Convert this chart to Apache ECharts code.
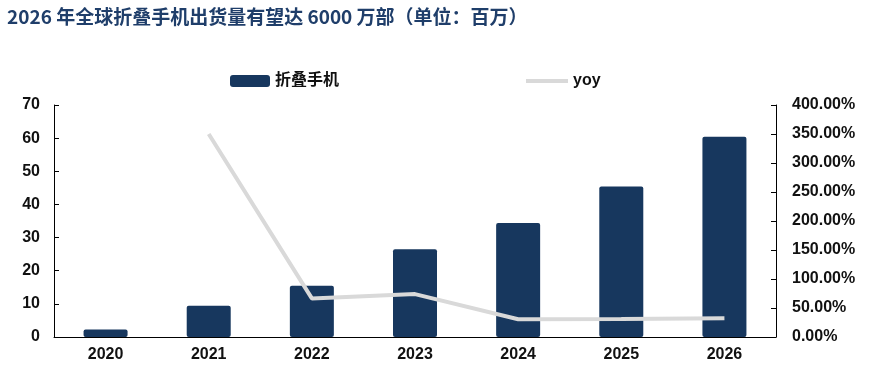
<!DOCTYPE html>
<html><head><meta charset="utf-8">
<script src="https://cdn.jsdelivr.net/npm/echarts@6/dist/echarts.min.js"></script>
<style>html,body{margin:0;padding:0;background:#fff}#c{width:883px;height:388px}</style>
</head><body><div id="c"></div>
<script>
const titleText = '2026 年全球折叠手机出货量有望达 6000 万部（单位：百万）';
const categories = ['2020','2021','2022','2023','2024','2025','2026'];
const shipments = [2.3, 9.4, 15.5, 26.5, 34.4, 45.4, 60.4];
const yoy = [null, 350, 66.5, 74, 30.5, 31, 32.5];
const barName = '折叠手机';
const lineName = 'yoy';

const chart = echarts.init(document.getElementById('c'));
const fontFam = '"Liberation Sans", Arial, "Noto Sans CJK SC", sans-serif';
const legendText = {fontFamily: '"Liberation Sans", "Noto Sans CJK SC", sans-serif', fontWeight: 'bold', fontSize: 16, color: '#111'};
chart.setOption({
  animation: false,
  title: {
    text: titleText, left: 2, top: 2,
    textStyle: {fontFamily: '"Noto Sans CJK SC", "Liberation Sans", sans-serif', fontWeight: 'bold', fontSize: 19, color: '#1F3E6A'}
  },
  legend: [{
    top: 68, left: 225, itemWidth: 40, itemHeight: 12,
    textStyle: legendText,
    data: [{name: barName, icon: 'roundRect'}]
  }, {
    top: 68, left: 521, itemWidth: 42, itemHeight: 4,
    textStyle: legendText,
    data: [{name: lineName, icon: 'rect', itemStyle: {color: '#D9D9D9'}}]
  }],
  grid: {left: 54, right: 107, top: 105, bottom: 51},
  xAxis: {
    type: 'category', data: categories,
    axisLine: {lineStyle: {color: '#000', width: 1}},
    axisTick: {inside: true, length: 5, lineStyle: {color: '#000'}},
    axisLabel: {fontFamily: fontFam, fontWeight: 'bold', fontSize: 16, color: '#111', margin: 10}
  },
  yAxis: [{
    type: 'value', min: 0, max: 70, interval: 10,
    splitLine: {show: false},
    axisLine: {show: true, lineStyle: {color: '#000'}},
    axisTick: {show: true, inside: true, length: 5, lineStyle: {color: '#000'}},
    axisLabel: {fontFamily: fontFam, fontWeight: 'bold', fontSize: 16, color: '#111', margin: 14}
  }, {
    type: 'value', min: 0, max: 400, interval: 50,
    splitLine: {show: false},
    axisLine: {show: true, lineStyle: {color: '#000'}},
    axisTick: {show: true, inside: true, length: 5, lineStyle: {color: '#000'}},
    axisLabel: {fontFamily: fontFam, fontWeight: 'bold', fontSize: 16, color: '#111', margin: 16,
      formatter: v => v.toFixed(2) + '%'}
  }],
  series: [{
    name: barName, type: 'bar', data: shipments, barWidth: 44,
    itemStyle: {color: '#17375E', borderRadius: 2}
  }, {
    name: lineName, type: 'line', yAxisIndex: 1, data: yoy,
    symbol: 'none', lineStyle: {color: '#D9D9D9', width: 4}, itemStyle: {color: '#D9D9D9'}
  }]
});
</script></body></html>
